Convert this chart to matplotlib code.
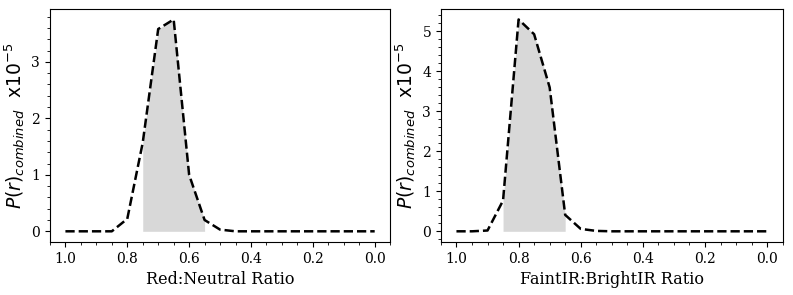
import matplotlib
matplotlib.use("Agg")
import matplotlib.pyplot as plt
from matplotlib.ticker import AutoMinorLocator

plt.rcParams['font.family'] = 'DejaVu Serif'
plt.rcParams['mathtext.fontset'] = 'dejavusans'

ratio = [1.0, 0.95, 0.9, 0.85, 0.8, 0.75, 0.7, 0.65, 0.6, 0.55, 0.5,
         0.45, 0.4, 0.35, 0.3, 0.25, 0.2, 0.15, 0.1, 0.05, 0.0]

# values in units of 1e-5
red_neutral = [0, 0, 0, 0, 0.22, 1.57, 3.58, 3.75, 1.0, 0.2, 0.03,
               0, 0, 0, 0, 0, 0, 0, 0, 0, 0]
faint_bright = [0, 0, 0.02, 0.77, 5.3, 4.93, 3.6, 0.41, 0.06, 0.01, 0,
                0, 0, 0, 0, 0, 0, 0, 0, 0, 0]

panels = [
    (red_neutral, 'Red:Neutral Ratio', (0.75, 0.55)),
    (faint_bright, 'FaintIR:BrightIR Ratio', (0.85, 0.65)),
]

fig = plt.figure(figsize=(7.93, 2.95), dpi=100)
axes = [fig.add_axes([0.063, 0.18, 0.429, 0.79]),
        fig.add_axes([0.556, 0.18, 0.431, 0.79])]

for ax, (vals, xlabel, (hi, lo)) in zip(axes, panels):
    sel = [i for i, r in enumerate(ratio) if lo - 1e-9 <= r <= hi + 1e-9]
    ax.fill_between([ratio[i] for i in sel], [vals[i] for i in sel], 0,
                    color='#d8d8d8', lw=0)
    ax.plot(ratio, vals, 'k--', lw=1.8)
    ax.invert_xaxis()
    ax.set_xticks([1.0, 0.8, 0.6, 0.4, 0.2, 0.0])
    ax.xaxis.set_minor_locator(AutoMinorLocator(4))
    ax.yaxis.set_minor_locator(AutoMinorLocator(5))
    ax.tick_params(labelsize=10)
    ax.set_xlabel(xlabel, fontsize=11.5)
    ax.set_ylabel(r'$P(r)_{combined}$  x10$^{-5}$', fontsize=13.5,
                  family='DejaVu Sans', labelpad=3)

fig.savefig('out.png', dpi=100)
